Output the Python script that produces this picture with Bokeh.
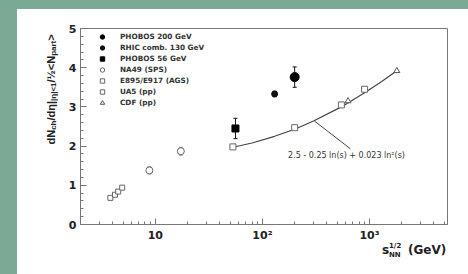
import math
from bokeh.plotting import figure
from bokeh.models import (Range1d, FixedTicker, Legend, LegendItem, Label, Whisker,
                          ColumnDataSource, Spacer, TeeHead, Div)
from bokeh.layouts import row, column
from bokeh.core.properties import value
from bokeh.embed import file_html
from bokeh.resources import INLINE

# ---------------- data ----------------
phobos200_x = [200]
phobos200_y = [3.76]
phobos200_err = [0.26]

rhic130_x = [130]
rhic130_y = [3.33]
rhic130_err = [0.07]

phobos56_x = [56]
phobos56_y = [2.45]
phobos56_err = [0.26]

na49_x = [8.8, 17.3]
na49_y = [1.38, 1.87]
na49_err = [0.09, 0.10]

ags_x = [3.8, 4.2, 4.5, 4.9]
ags_y = [0.68, 0.76, 0.84, 0.94]

ua5_x = [53, 200, 546, 900]
ua5_y = [1.98, 2.47, 3.05, 3.45]

cdf_x = [630, 1800]
cdf_y = [3.15, 3.92]

fit_x = [53, 80, 130, 200, 300, 546, 900, 1300, 1800]
fit_y = [1.97, 2.08, 2.25, 2.43, 2.64, 3.00, 3.36, 3.65, 3.92]

series_labels = ["PHOBOS 200 GeV", "RHIC comb. 130 GeV", "PHOBOS 56 GeV",
                 "NA49 (SPS)", "E895/E917 (AGS)", "UA5 (pp)", "CDF (pp)"]

x_tick_values = [10, 100, 1000]
x_tick_labels = ["10", "10\u00b2", "10\u00b3"]
y_tick_values = [0, 1, 2, 3, 4, 5]

fit_text = "2.5 - 0.25 ln(s) + 0.023 ln\u00b2(s)"

# ---------------- styling ----------------
TEAL = "#7aaa96"
INK = "#222222"
AXC = "#777777"
FONT = "DejaVu Sans"
YFONT = "Liberation Sans"

p = figure(width=406, height=235, x_axis_type="log",
           x_range=Range1d(2.0, 5350), y_range=Range1d(0, 5),
           output_backend="svg", toolbar_location=None,
           min_border_left=18, min_border_right=21, min_border_top=19, min_border_bottom=17)
p.xgrid.visible = False
p.ygrid.visible = False
p.outline_line_color = AXC
p.outline_line_width = 1
p.background_fill_color = "white"
p.border_fill_color = "white"

minor_x = [m * 10 ** k for k in range(0, 4) for m in range(2, 10)
           if 2 <= m * 10 ** k <= 5350 and m * 10 ** k not in x_tick_values]
p.xaxis.ticker = FixedTicker(ticks=x_tick_values, minor_ticks=minor_x)
p.xaxis.major_label_overrides = {float(v): t for v, t in zip(x_tick_values, x_tick_labels)}
minor_y = [i / 5 for i in range(0, 26) if i % 5 != 0]
p.yaxis.ticker = FixedTicker(ticks=y_tick_values, minor_ticks=minor_y)

for ax in (p.xaxis[0], p.yaxis[0]):
    ax.axis_line_color = AXC
    ax.major_tick_line_color = AXC
    ax.minor_tick_line_color = AXC
    ax.major_tick_in = 6
    ax.major_tick_out = 0
    ax.minor_tick_in = 3
    ax.minor_tick_out = 0
    ax.major_label_text_font = FONT
    ax.major_label_text_font_style = "bold"
    ax.major_label_text_font_size = "11px"
    ax.major_label_text_color = INK
p.xaxis.major_label_standoff = 4
p.yaxis.major_label_standoff = 4


def errsrc(xs, ys, es):
    return ColumnDataSource(dict(x=xs, upper=[y + e for y, e in zip(ys, es)],
                                 lower=[y - e for y, e in zip(ys, es)]))


for xs, ys, es, col in [(phobos200_x, phobos200_y, phobos200_err, "#111"),
                        (rhic130_x, rhic130_y, rhic130_err, "#111"),
                        (phobos56_x, phobos56_y, phobos56_err, "#111"),
                        (na49_x, na49_y, na49_err, "#888")]:
    p.add_layout(Whisker(source=errsrc(xs, ys, es), base="x", upper="upper", lower="lower",
                         dimension="height", line_color=col, line_width=1,
                         upper_head=TeeHead(size=4, line_color=col),
                         lower_head=TeeHead(size=4, line_color=col)))

# fit curve
p.line(fit_x, fit_y, line_color="#444444", line_width=1.2)

r1 = p.scatter(phobos200_x, phobos200_y, marker="circle", size=9, fill_color="black", line_color="black")
r2 = p.scatter(rhic130_x, rhic130_y, marker="circle", size=6, fill_color="#111", line_color="#111")
r3 = p.scatter(phobos56_x, phobos56_y, marker="square", size=7, fill_color="black", line_color="black")
r4 = p.scatter(na49_x, na49_y, marker="circle", size=7, fill_color="white", line_color="#666", line_width=1)
r5 = p.scatter(ags_x, ags_y, marker="square", size=5, fill_color="white", line_color="#666", line_width=1)
r6 = p.scatter(ua5_x, ua5_y, marker="square", size=6, fill_color="white", line_color="#666", line_width=1)
r7 = p.scatter(cdf_x, cdf_y, marker="triangle", size=6, fill_color="white", line_color="#555", line_width=1)

legend = Legend(items=[LegendItem(label=l, renderers=[r]) for l, r in
                       zip(series_labels, [r1, r2, r3, r4, r5, r6, r7])],
                location=(16, 116), padding=0, margin=0, spacing=0,
                glyph_width=12, glyph_height=11, label_height=11, label_standoff=12,
                border_line_color=None, background_fill_alpha=0,
                label_text_font=FONT, label_text_font_style="bold",
                label_text_font_size="7.3px", label_text_color="#333")
p.add_layout(legend)

# fit annotation
p.segment(x0=[306], y0=[2.64], x1=[664], y1=[1.93], line_color="#444", line_width=1)
p.add_layout(Label(x=610, y=1.76, text=fit_text, text_align="center", text_baseline="middle",
                   text_font=FONT, text_font_size="8px", text_color="#333"))


# ---------------- y title in its own small figure, ranges in page pixels ----------------
def pixel_fig(w, h, left, right, top, bottom):
    f = figure(width=w, height=h, x_range=Range1d(left, right), y_range=Range1d(-bottom, -top),
               title=None, x_axis_type=None, y_axis_type=None, output_backend="svg",
               toolbar_location=None,
               min_border_left=0, min_border_right=0, min_border_top=0, min_border_bottom=0)
    f.outline_line_color = None
    f.background_fill_color = "white"
    f.border_fill_color = "white"
    return f


def put(f, text, x, y, size, font, angle=0.0):
    f.text(x=[x], y=[-y], text=[text], angle=angle, text_font=value(font),
           text_font_size=f"{size}px", text_font_style="bold", text_color=INK,
           text_align="left", text_baseline="alphabetic")


# widths (em) of Liberation Sans Bold, to chain the pieces of the y title
W = {"d": .611, "N": .722, "c": .556, "h": .611, "/": .278, "\u03b7": .611, "|": .280,
     "<": .584, ">": .584, "1": .556, " ": .278, "\u00bd": .834, "p": .611,
     "a": .556, "r": .389, "t": .333}


def tw(t, size):
    return sum(W.get(ch, .6) for ch in t) * size


# y title: dN_ch/deta|_{|eta|<1} / (1/2 <N_part>)
yfig = pixel_fig(45, 265, 17, 62, 9, 274)
ypieces = [("dN", 11, 0), ("ch", 8, 3), ("/d\u03b7|", 11, 0), ("|\u03b7|<1", 8, 3),
           ("/\u00bd<N", 11, 0), ("part", 8, 3), (">", 11, 0)]
pos = 144.0        # page y where the title starts (it reads upwards)
base = 50          # page x of the rotated baseline
for t, s, sh in ypieces:
    put(yfig, t, base + sh, pos, s, YFONT, angle=math.pi / 2)
    pos -= tw(t, s)

# x title: s^{1/2}_{NN} (GeV), as HTML text in a strip below the plot (page x 62.., y 244..)
span = '<span style="position:absolute;left:{}px;top:{}px;font-size:{}px;">{}</span>'
xtitle_html = ('<div style="position:relative;width:406px;height:30px;font-family:\'DejaVu Sans\';'
               'font-weight:bold;color:#222;line-height:1;white-space:nowrap;">'
               + span.format(320, 0, 12, "s")
               + span.format(327, -1, 7, "1/2")
               + span.format(327, 8, 7, "NN")
               + span.format(346, 0, 12, "(GeV)")
               + '</div>')
xtitle = Div(text=xtitle_html, width=406, height=30, margin=0)

root = row(Spacer(width=17, height=274, margin=0, styles={"background-color": TEAL}),
           column(Spacer(width=451, height=9, margin=0, styles={"background-color": TEAL}),
                  row(yfig, column(p, xtitle))))

open("out.html", "w").write(file_html(root, INLINE))
